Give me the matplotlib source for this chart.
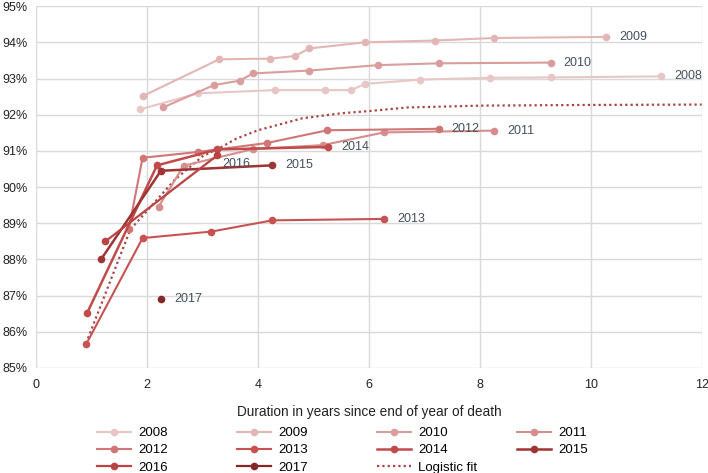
import matplotlib
matplotlib.use("Agg")
import matplotlib.pyplot as plt
from matplotlib.ticker import FuncFormatter

# -----------------------------------
# Data (percent completeness vs duration in years)
# -----------------------------------
x_2008 = [1.88, 2.92, 4.30, 5.21, 5.68, 5.93, 6.92, 8.19, 9.28, 11.27]
y_2008 = [92.15, 92.59, 92.68, 92.68, 92.68, 92.85, 92.97, 93.02, 93.03, 93.06]

x_2009 = [1.93, 3.30, 4.22, 4.67, 4.92, 5.93, 7.19, 8.26, 10.28]
y_2009 = [92.52, 93.53, 93.55, 93.62, 93.83, 94.00, 94.05, 94.12, 94.15]

x_2010 = [2.29, 3.21, 3.67, 3.91, 4.92, 6.17, 7.26, 9.28]
y_2010 = [92.20, 92.82, 92.94, 93.14, 93.22, 93.37, 93.42, 93.44]

x_2011 = [2.21, 2.66, 3.91, 5.17, 6.27, 8.26]
y_2011 = [89.46, 90.59, 91.05, 91.16, 91.51, 91.56]

x_2012 = [1.67, 1.92, 2.92, 4.17, 5.25, 7.26]
y_2012 = [88.83, 90.81, 90.97, 91.22, 91.57, 91.61]

x_2013 = [0.90, 1.92, 3.16, 4.26, 6.27]
y_2013 = [85.65, 88.59, 88.77, 89.08, 89.12]

x_2014 = [0.92, 2.18, 3.27, 5.27]
y_2014 = [86.52, 90.60, 91.04, 91.11]

x_2015 = [1.17, 2.25, 4.25]
y_2015 = [88.00, 90.45, 90.60]

x_2016 = [1.25, 3.27]
y_2016 = [88.50, 90.88]

x_2017 = [2.25]
y_2017 = [86.91]

x_fit = [0.9, 1.7, 2.5, 3.0, 3.3, 3.6, 4.0, 4.8, 5.5, 6.0, 6.7, 8.0, 10.0, 12.0]
y_fit = [85.68, 88.83, 90.20, 90.85, 91.07, 91.33, 91.57, 91.90, 92.04, 92.10, 92.20, 92.25, 92.27, 92.28]

years = ["2008", "2009", "2010", "2011", "2012", "2013", "2014", "2015", "2016", "2017"]
xs = [x_2008, x_2009, x_2010, x_2011, x_2012, x_2013, x_2014, x_2015, x_2016, x_2017]
ys = [y_2008, y_2009, y_2010, y_2011, y_2012, y_2013, y_2014, y_2015, y_2016, y_2017]

colors = ["#E8C6C6", "#E3B6B6", "#DA9D9D", "#D58D8D", "#D07676",
          "#C85252", "#C24A4A", "#9E3434", "#B84444", "#822828"]
widths = [1.5, 1.5, 1.5, 1.5, 1.5, 1.5, 1.8, 1.8, 1.6, 1.6]

# label offsets in pixels from the last point
label_off = {"2016": (5, -9)}

plt.rcParams["font.family"] = ["Liberation Sans", "DejaVu Sans"]

# -----------------------------------
# Plot
# -----------------------------------
fig = plt.figure(figsize=(7.08, 4.73), dpi=100)
ax = fig.add_axes([0.051, 0.222, 0.940, 0.765])

handles = {}
for yr, x, y, c, w in zip(years, xs, ys, colors, widths):
    h, = ax.plot(x, y, color=c, lw=w, marker="o", markersize=5.5,
                 markeredgewidth=0, label=yr, zorder=3)
    handles[yr] = h
    dx, dy = label_off.get(yr, (13, 0))
    ax.annotate(yr, (x[-1], y[-1]), xytext=(dx, dy), textcoords="offset pixels",
                ha="left", va="center", fontsize=9, color="#44505C", zorder=4)

fit, = ax.plot(x_fit, y_fit, color="#A94444", lw=1.6, ls=(0, (1, 1.4)),
               label="Logistic fit", zorder=2)
handles["Logistic fit"] = fit

ax.set_xlim(0, 12)
ax.set_ylim(85, 95)
ax.set_xticks(range(0, 13, 2))
ax.set_yticks(range(85, 96))
ax.yaxis.set_major_formatter(FuncFormatter(lambda v, p: "%d%%" % v))
ax.grid(True, color="#D9D9D9", lw=1)
ax.set_axisbelow(True)
for s in ax.spines.values():
    s.set_visible(False)
ax.tick_params(length=0, labelsize=9, colors="#222222")
ax.tick_params(axis="y", pad=6)
ax.tick_params(axis="x", pad=8)
ax.set_xlabel("Duration in years since end of year of death", fontsize=9.8,
              color="#222222", labelpad=10)

# legend: one small legend per column so columns sit at fixed spots
columns = [["2008", "2012", "2016"], ["2009", "2013", "2017"],
           ["2010", "2014", "Logistic fit"], ["2011", "2015"]]
col_x = [97, 237, 377, 517]
for keys, px in zip(columns, col_x):
    fig.legend([handles[k] for k in keys], keys, loc="upper left",
               bbox_to_anchor=(px / 708, 1 - 427 / 473), frameon=False,
               fontsize=9.5, handlelength=2.6, labelspacing=0.38,
               handletextpad=0.5, borderaxespad=0, borderpad=0)

plt.savefig("out.png", dpi=100)
